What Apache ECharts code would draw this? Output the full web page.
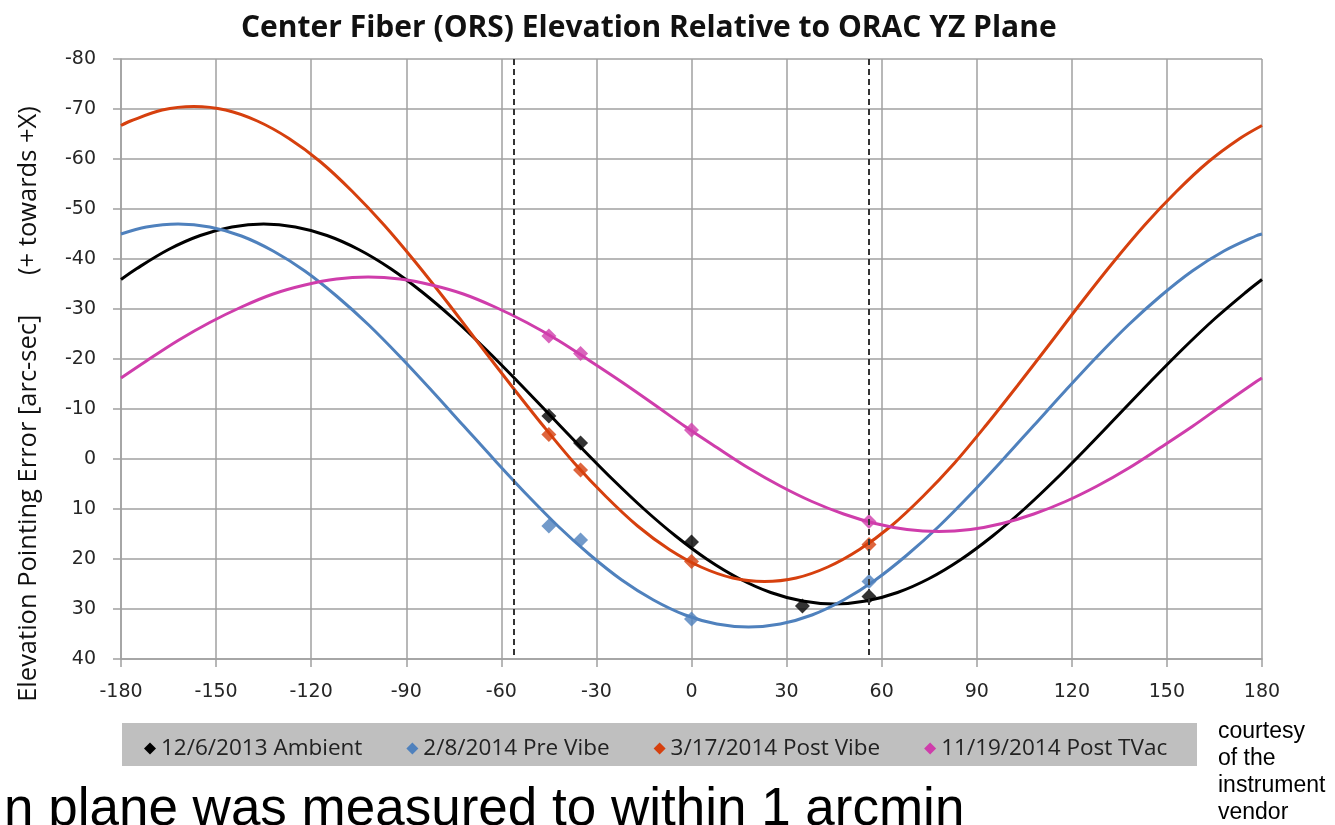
<!DOCTYPE html>
<html>
<head>
<meta charset="utf-8">
<script src="https://cdn.jsdelivr.net/npm/echarts@6/dist/echarts.min.js"></script>
<style>
  html, body { margin: 0; padding: 0; background: #ffffff; }
  #chart { width: 1335px; height: 825px; }
</style>
</head>
<body>
<div id="chart"></div>
<script>
// Fitted elevation error curves: sample angle (deg) and error [arc-sec].
// Each curve is sampled every 10 deg around its own turning points.
const ambientFitX = [-180, -175, -165, -155, -145, -135, -125, -115, -105, -95, -85, -75, -65, -55, -45, -35, -25, -15, -5,
                     5, 15, 25, 35, 45, 55, 65, 75, 85, 95, 105, 115, 125, 135, 145, 155, 165, 175, 180];
const ambientFitY = [-35.9, -38.1, -41.9, -44.7, -46.4, -47.0, -46.4, -44.7, -41.9, -38.1, -33.4, -28.0, -22.0, -15.6, -9.0, -2.4, 4.0, 10.0, 15.4,
                     20.1, 23.9, 26.7, 28.4, 29.0, 28.4, 26.7, 23.9, 20.1, 15.4, 10.0, 4.0, -2.4, -9.0, -15.6, -22.0, -28.0, -33.4, -35.9];

const preVibeFitX = [-180, -172, -162, -152, -142, -132, -122, -112, -102, -92, -82, -72, -62, -52, -42, -32, -22, -12, -2,
                     8, 18, 28, 38, 48, 58, 68, 78, 88, 98, 108, 118, 128, 138, 148, 158, 168, 178, 180];
const preVibeFitY = [-45.0, -46.4, -47.0, -46.4, -44.6, -41.6, -37.6, -32.6, -26.9, -20.5, -13.7, -6.7, 0.3, 7.1, 13.5, 19.2, 24.2, 28.2, 31.2,
                     33.0, 33.6, 33.0, 31.2, 28.2, 24.2, 19.2, 13.5, 7.1, 0.3, -6.7, -13.7, -20.5, -26.9, -32.6, -37.6, -41.6, -44.6, -45.0];

const postVibeFitX = [-180, -177, -167, -157, -147, -137, -127, -117, -107, -97, -87, -77, -67, -57, -47, -37, -27, -17, -7,
                      3, 13, 23, 33, 43, 53, 63, 73, 83, 93, 103, 113, 123, 133, 143, 153, 163, 173, 180];
const postVibeFitY = [-66.7, -67.6, -69.8, -70.5, -69.8, -67.6, -64.1, -59.4, -53.5, -46.8, -39.3, -31.3, -23.0, -14.8, -6.8, 0.8, 7.5, 13.4, 18.1,
                      21.6, 23.8, 24.5, 23.8, 21.6, 18.1, 13.4, 7.5, 0.8, -6.8, -14.8, -23.0, -31.3, -39.3, -46.8, -53.5, -59.4, -64.1, -66.7];

const postTVacFitX = [-180, -172, -162, -152, -142, -132, -122, -112, -102, -92, -82, -72, -62, -52, -42, -32, -22, -12, -2,
                      8, 18, 28, 38, 48, 58, 68, 78, 88, 98, 108, 118, 128, 138, 148, 158, 168, 178, 180];
const postTVacFitY = [-16.2, -19.6, -23.7, -27.3, -30.4, -33.0, -34.8, -36.0, -36.4, -36.0, -34.8, -33.0, -30.4, -27.3, -23.7, -19.6, -15.4, -11.0, -6.5,
                      -2.3, 1.8, 5.4, 8.5, 11.0, 12.9, 14.1, 14.5, 14.1, 12.9, 11.0, 8.5, 5.4, 1.8, -2.3, -6.5, -11.0, -15.4, -16.2];

// Measured points
const ambientX  = [-45, -35, 0, 35, 56];
const ambientY  = [-8.6, -3.2, 16.6, 29.4, 27.5];
const preVibeX  = [-45, -35, 0, 56];
const preVibeY  = [13.4, 16.2, 32.0, 24.5];
const postVibeX = [-45, -35, 0, 56];
const postVibeY = [-4.9, 2.2, 20.5, 17.1];
const postTVacX = [-45, -35, 0, 56];
const postTVacY = [-24.6, -21.1, -5.8, 12.5];

// Limits of the measured range
const rangeLimits = [-56, 56];

const seriesNames = ['12/6/2013 Ambient', '2/8/2014 Pre Vibe', '3/17/2014 Post Vibe', '11/19/2014 Post TVac'];
const seriesColors = ['#000000', '#4F81BD', '#D6400E', '#CF3DAB'];

const xTicks = { min: -180, max: 180, step: 30 };
const yTicks = { min: -80, max: 40, step: 10 };

const FONT = '"Open Sans", "Noto Sans", sans-serif';
const TICK_FONT = '"DejaVu Sans", "Open Sans", sans-serif';

const fits = [[ambientFitX, ambientFitY], [preVibeFitX, preVibeFitY], [postVibeFitX, postVibeFitY], [postTVacFitX, postTVacFitY]];
const pts = [[ambientX, ambientY], [preVibeX, preVibeY], [postVibeX, postVibeY], [postTVacX, postTVacY]];

const pairs = (xs, ys) => xs.map((x, k) => [x, ys[k]]);

const series = [];
fits.forEach((f, i) => {
  const s = {
    name: seriesNames[i],
    type: 'line',
    smooth: 0.33,
    showSymbol: false,
    data: pairs(f[0], f[1]),
    lineStyle: { color: seriesColors[i], width: 3 },
    itemStyle: { color: seriesColors[i] },
    z: 3
  };
  if (i === 0) {
    s.markLine = {
      silent: true,
      symbol: ['none', 'none'],
      label: { show: false },
      lineStyle: { type: [6, 4], color: '#333333', width: 2 },
      data: rangeLimits.map(v => ({ xAxis: v }))
    };
  }
  series.push(s);
});
pts.forEach((p, i) => {
  series.push({
    name: seriesNames[i],
    type: 'scatter',
    symbol: 'diamond',
    symbolSize: 15,
    data: pairs(p[0], p[1]),
    itemStyle: { color: seriesColors[i] },
    z: 4
  });
});

const chart = echarts.init(document.getElementById('chart'), null, { renderer: 'canvas' });
chart.setOption({
  animation: false,
  backgroundColor: '#ffffff',
  title: {
    text: 'Center Fiber (ORS) Elevation Relative to ORAC YZ Plane',
    left: 236,
    top: 8,
    textStyle: { fontFamily: FONT, fontWeight: 'bold', fontSize: 30, color: '#111111' }
  },
  grid: { left: 121, right: 73, top: 59, bottom: 166, containLabel: false },
  legend: {
    data: seriesNames,
    left: 139,
    top: 732,
    icon: 'diamond',
    itemWidth: 12,
    itemHeight: 12,
    itemGap: 44,
    textStyle: { fontFamily: FONT, fontSize: 22.5, color: '#222222' }
  },
  xAxis: {
    type: 'value',
    min: xTicks.min,
    max: xTicks.max,
    interval: xTicks.step,
    axisLine: { onZero: false, lineStyle: { color: '#a0a0a0', width: 1.5 } },
    axisTick: { show: true, length: 8, lineStyle: { color: '#a0a0a0', width: 1.5 } },
    axisLabel: { margin: 24, fontFamily: TICK_FONT, fontSize: 19, color: '#262626' },
    splitLine: { show: true, lineStyle: { color: '#a0a0a0', width: 1.5 } }
  },
  yAxis: {
    type: 'value',
    inverse: true,
    min: yTicks.min,
    max: yTicks.max,
    interval: yTicks.step,
    axisLine: { show: true, onZero: false, lineStyle: { color: '#a0a0a0', width: 1.5 } },
    axisTick: { show: true, length: 8, lineStyle: { color: '#a0a0a0', width: 1.5 } },
    axisLabel: { margin: 25, fontFamily: TICK_FONT, fontSize: 19, color: '#262626' },
    splitLine: { show: true, lineStyle: { color: '#a0a0a0', width: 1.5 } }
  },
  graphic: [
    {
      // y-axis title
      type: 'text',
      x: 29,
      y: 404,
      rotation: Math.PI / 2,
      style: {
        text: 'Elevation Pointing Error [arc-sec]      (+ towards +X)',
        textAlign: 'center',
        textVerticalAlign: 'middle',
        fontFamily: FONT,
        fontSize: 25.5,
        fill: '#111111'
      }
    },
    {
      type: 'rect',
      z: -1,
      shape: { x: 122, y: 723, width: 1075, height: 43 },
      style: { fill: '#bfbfbf' }
    },
    {
      type: 'text',
      style: {
        text: 'courtesy\nof the\ninstrument\nvendor',
        x: 1218, y: 718,
        fontFamily: '"Liberation Sans", Arial, sans-serif',
        fontSize: 23,
        lineHeight: 27,
        fill: '#000000'
      }
    },
    {
      type: 'text',
      style: {
        text: 'n plane was measured to within 1 arcmin',
        x: 4, y: 784,
        fontFamily: '"Liberation Sans", Arial, sans-serif',
        fontSize: 53,
        fill: '#000000'
      }
    }
  ],
  series: series
});
</script>
</body>
</html>
